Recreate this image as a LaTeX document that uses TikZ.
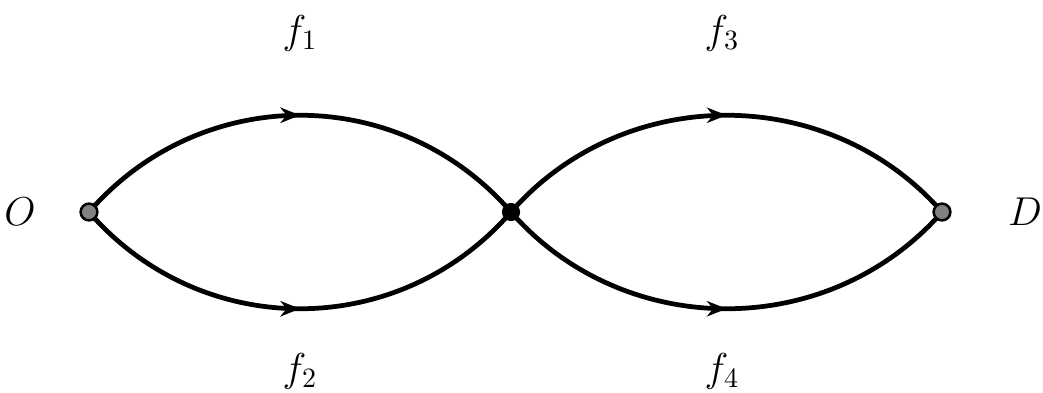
\documentclass[tikz,border=0pt]{standalone}
\usetikzlibrary{arrows.meta,decorations.markings}
\begin{document}
\begin{tikzpicture}[x=0.01256cm,y=-0.01256cm,
  flow/.style={line width=1.7pt,postaction={decorate},
    decoration={markings,mark=at position 0.5 with {\arrow{Stealth[length=7pt,width=5.5pt,inset=2.2pt]}}}},
  endnode/.style={circle,draw=black,fill=gray,line width=0.9pt,inner sep=0pt,minimum size=6pt},
  midnode/.style={circle,fill=black,inner sep=0pt,minimum size=6.5pt},
  lab/.style={font=\fontsize{13.8}{16}\selectfont,inner sep=1pt}]
\useasboundingbox (0,0) rectangle (1043,392);
\coordinate (o) at (89,212);
\coordinate (m) at (511,212);
\coordinate (d) at (942,212);
\draw[flow] (o) .. controls (201,83) and (399,83) .. (m);
\draw[flow] (o) .. controls (201,341) and (399,341) .. (m);
\draw[flow] (m) .. controls (624,83) and (829,83) .. (d);
\draw[flow] (m) .. controls (624,341) and (829,341) .. (d);
\node[endnode] (O) at (o) {};
\node[midnode] (M) at (m) {};
\node[endnode] (D) at (d) {};
\node[lab] (lO) at (20,212) {$O$};
\node[lab] (lD) at (1025,212) {$D$};
\node[lab] (f1) at (300,33) {$f_1$};
\node[lab] (f2) at (300,371) {$f_2$};
\node[lab] (f3) at (722,33) {$f_3$};
\node[lab] (f4) at (722,371) {$f_4$};
\end{tikzpicture}
\end{document}
